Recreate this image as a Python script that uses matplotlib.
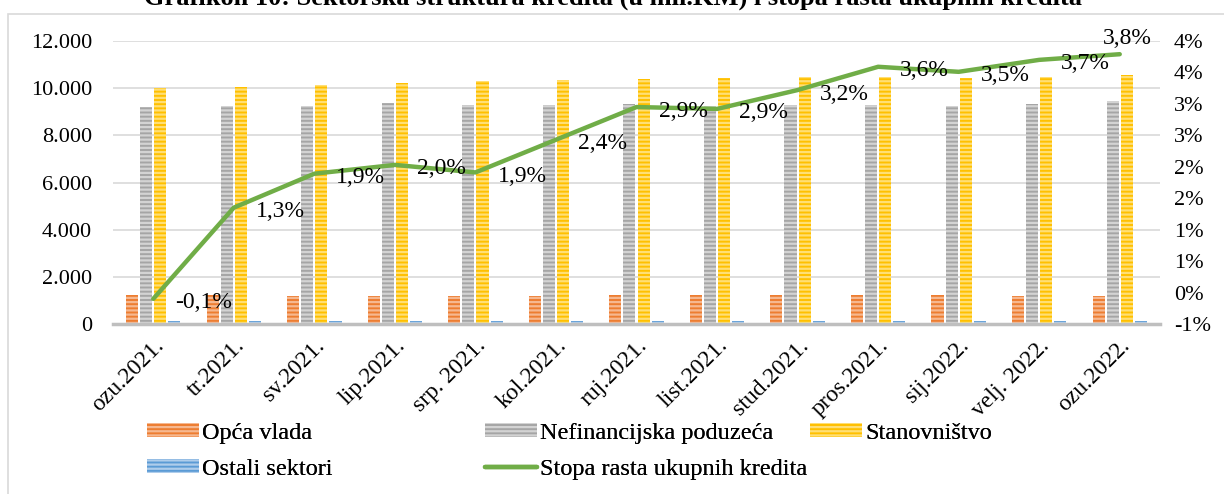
import matplotlib.pyplot as plt
import numpy as np
from matplotlib.patches import Rectangle, Patch
from matplotlib.lines import Line2D

plt.rcParams['font.family'] = ['Liberation Serif', 'DejaVu Serif']
plt.rcParams['hatch.linewidth'] = 1.6

months = ['ozu.2021.', 'tr.2021.', 'sv.2021.', 'lip.2021.', 'srp. 2021.', 'kol.2021.', 'ruj.2021.',
          'list.2021.', 'stud.2021.', 'pros.2021.', 'sij.2022.', 'velj. 2022.', 'ozu.2022.']
opca_vlada = [1230, 1230, 1200, 1195, 1185, 1185, 1230, 1225, 1225, 1225, 1210, 1185, 1170]
nefinancijska = [9200, 9250, 9250, 9350, 9270, 9270, 9340, 9250, 9300, 9300, 9230, 9340, 9460]
stanovnistvo = [9990, 10070, 10150, 10240, 10300, 10350, 10400, 10425, 10465, 10455, 10425, 10465, 10565]
ostali = [110, 110, 110, 110, 130, 130, 130, 130, 130, 130, 120, 125, 130]
stopa = [-0.1, 1.35, 1.89, 2.03, 1.91, 2.43, 2.95, 2.92, 3.22, 3.59, 3.51, 3.70, 3.79]
stopa_labels = ['-0,1%', '1,3%', '1,9%', '2,0%', '1,9%', '2,4%', '2,9%',
                '2,9%', '3,2%', '3,6%', '3,5%', '3,7%', '3,8%']

series = [
    ('Opća vlada', opca_vlada, '#ED7D31', '#F6B890'),
    ('Nefinancijska poduzeća', nefinancijska, '#A5A5A5', '#D3D3D3'),
    ('Stanovništvo', stanovnistvo, '#FFC000', '#FFDF75'),
    ('Ostali sektori', ostali, '#5B9BD5', '#AFCDEB'),
]

fig = plt.figure(figsize=(12.24, 4.94), dpi=100)
ax = fig.add_axes([113/1224, 1-324/494, (1160-113)/1224, (324-41)/494])
ax2 = ax.twinx()

x = np.arange(len(months))
w = 0.15
step = 0.175
handles = {}
for i, (name, vals, col, hcol) in enumerate(series):
    off = (i - 1.5) * step
    ax.bar(x + off, vals, width=w, color=col, edgecolor=hcol, linewidth=0,
           hatch='----', zorder=2)
    handles[name] = Patch(facecolor=col, edgecolor=hcol, linewidth=0, hatch='----')

ax.set_xlim(-0.5, len(months) - 0.5)
ax.set_ylim(0, 12000)
ax.set_yticks(np.arange(0, 12001, 2000))
ax.set_yticklabels([f'{int(v):,}'.replace(',', '.') for v in np.arange(0, 12001, 2000)])
ax.grid(axis='y', color='#D9D9D9', linewidth=1.2, zorder=0)
ax.set_axisbelow(True)
for s in ['top', 'left', 'right']:
    ax.spines[s].set_visible(False)
ax.spines['bottom'].set_color('#BFBFBF')
ax.spines['bottom'].set_linewidth(2.5)
ax.tick_params(axis='both', length=0, labelsize=16)
ax.tick_params(axis='y', pad=15)
ax.set_xticks(x)
ax.set_xticklabels(months, rotation=45, ha='right', rotation_mode='anchor', fontsize=17)
ax.tick_params(axis='x', pad=8)

ax2.plot(x, stopa, color='#70AD47', linewidth=3.2, solid_capstyle='round', zorder=3)
ax2.set_ylim(-0.5, 4.0)
rt = np.arange(-0.5, 4.01, 0.5)
ax2.set_yticks(rt)
ax2.set_yticklabels([f'{int(np.sign(v) * np.floor(abs(v) + 0.5))}%' for v in rt])
ax2.tick_params(axis='y', length=0, labelsize=16, pad=10)
for s in ['top', 'left', 'right', 'bottom']:
    ax2.spines[s].set_visible(False)

for i, (v, lab) in enumerate(zip(stopa, stopa_labels)):
    if i == len(stopa) - 1:
        ax2.annotate(lab, (x[i], v), xytext=(8, 16), textcoords='offset pixels',
                     ha='center', va='center', fontsize=17)
    else:
        ax2.annotate(lab, (x[i], v), xytext=(22, -4), textcoords='offset pixels',
                     ha='left', va='center', fontsize=17)

fig.text(0.501, 1 - 5/494, 'Grafikon 10: Sektorska struktura kredita (u mil.KM) i stopa rasta ukupnih kredita',
         ha='center', va='baseline', fontsize=19, fontweight='bold')

fig.add_artist(Rectangle((8/1224, -0.1), 1.1, 1.1 - 14/494, transform=fig.transFigure,
                         fill=False, edgecolor='#D9D9D9', linewidth=1.2))

green = Line2D([], [], color='#70AD47', linewidth=3.2, solid_capstyle='round')
cols = [
    (147, [handles['Opća vlada'], handles['Ostali sektori']], ['Opća vlada', 'Ostali sektori']),
    (485, [handles['Nefinancijska poduzeća'], green], ['Nefinancijska poduzeća', 'Stopa rasta ukupnih kredita']),
    (810, [handles['Stanovništvo']], ['Stanovništvo']),
]
for xp, hs, ls in cols:
    leg = fig.legend(hs, ls, loc='upper left', bbox_to_anchor=(xp/1224, 1 - 423/494),
                     frameon=False, fontsize=17.5, handlelength=2.15, handleheight=0.5,
                     handletextpad=0.12, labelspacing=0.6, borderpad=0, borderaxespad=0)
    fig.add_artist(leg)

fig.savefig('out.png', dpi=100)
